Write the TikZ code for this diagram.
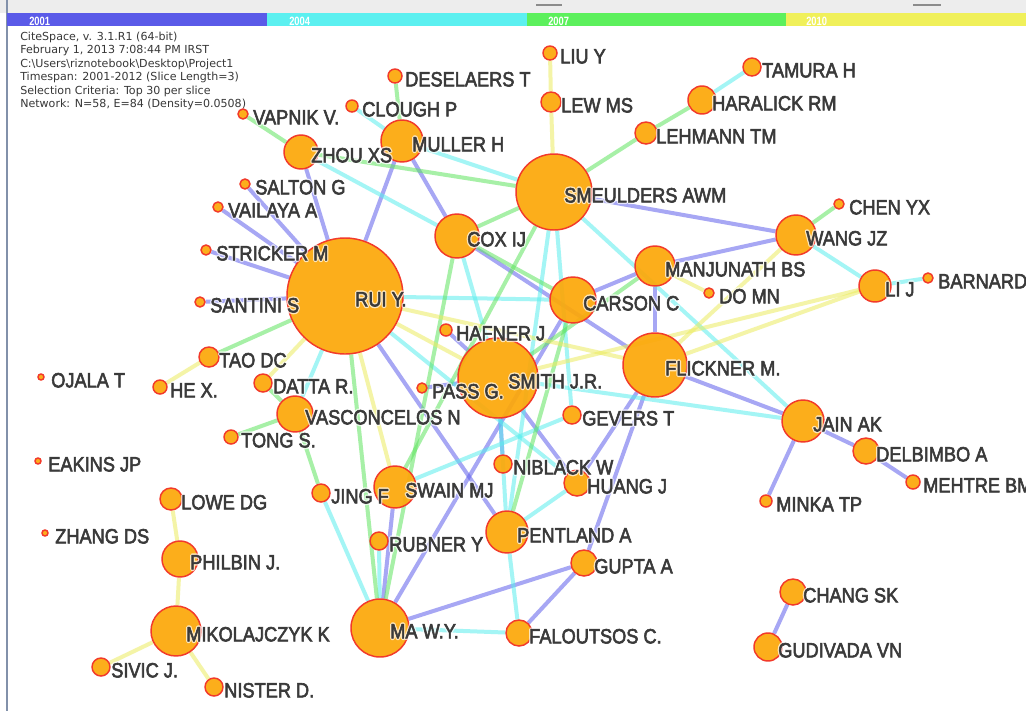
\documentclass[tikz,border=0pt]{standalone}
\usepackage{fontspec}
\usepackage{graphicx}
\setmainfont{Liberation Sans}
\newfontfamily\hdrfont{DejaVu Sans}
\usetikzlibrary{calc}
\pgfdeclarelayer{bg}\pgfdeclarelayer{edgel}\pgfdeclarelayer{labl}
\pgfsetlayers{bg,edgel,main,labl}
\definecolor{eblue}{RGB}{95,95,235}
\definecolor{ecyan}{RGB}{90,238,238}
\definecolor{egreen}{RGB}{95,228,95}
\definecolor{eyellow}{RGB}{236,236,95}
\definecolor{nfill}{RGB}{252,168,10}
\definecolor{nline}{RGB}{242,58,42}
\definecolor{labc}{RGB}{58,58,58}
\definecolor{tlb}{RGB}{90,90,232}
\definecolor{tlc}{RGB}{92,240,240}
\definecolor{tlg}{RGB}{92,240,92}
\definecolor{tly}{RGB}{240,240,90}
\newcommand\boldish[1]{\special{pdf:literal q 2 Tr 0.45 w}#1\special{pdf:literal Q}}
\newcommand\haloize[1]{\special{pdf:literal q 1 Tr 2.6 w 1 J 1 j 1 1 1 RG}#1\special{pdf:literal Q}}
\tikzset{
  cnode/.style={circle,inner sep=0pt,fill=nfill,fill opacity=0.93,draw=nline,line width=1.1pt},
  lab/.style={anchor=base west,inner sep=0pt,text=labc,font=\fontsize{15.5}{16}\selectfont},
  halo/.style={anchor=base west,inner sep=0pt,text=white,opacity=0.7,font=\fontsize{15.5}{16}\selectfont},
  hdr/.style={anchor=base west,inner sep=0pt,text=black!78,font=\hdrfont\fontsize{8.3}{9}\selectfont},
  tll/.style={anchor=base west,inner sep=0pt,text=white,font=\bfseries\fontsize{9}{9}\selectfont},
  edge/.style={line width=3pt,draw opacity=0.55},
  eb/.style={edge,draw=eblue},
  ec/.style={edge,draw=ecyan},
  eg/.style={edge,draw=egreen},
  ey/.style={edge,draw=eyellow},
}
\newcommand\cn[5]{\node[cnode,minimum size=#4*1.5pt] (#1) at (#2,#3) {};
  \begin{pgfonlayer}{labl}
  \node[halo] (#1-h) at (#2+10,#3+10.4) {\haloize{\scalebox{0.88}[1]{#5}}};
  \node[lab] (#1-t) at (#2+10,#3+10.4) {\boldish{\scalebox{0.88}[1]{#5}}};\end{pgfonlayer}}
\newcommand\E[3]{\draw[#1] (#2) -- (#3);}
\begin{document}
\begin{tikzpicture}[x=0.75pt,y=-0.75pt]
\clip (0,0) rectangle (1026,711);
\begin{pgfonlayer}{bg}
\fill[white] (0,0) rectangle (1026,711);
\fill[black!7] (0,0) rectangle (1026,13);
\fill[black!45] (536,4) rectangle (562,6);
\fill[black!45] (913,4) rectangle (941,6);
\draw[color={rgb,255:red,130;green,145;blue,170},line width=0.9pt] (7,0) -- (7,711);
\fill[tlb] (7,13) rectangle (267,26);
\fill[tlc] (267,13) rectangle (527,26);
\fill[tlg] (527,13) rectangle (786,26);
\fill[tly] (786,13) rectangle (1026,26);
\node[tll] (y1) at (29,25.5) {\scalebox{0.78}[1]{2001}};
\node[tll] (y2) at (289,25.5) {\scalebox{0.78}[1]{2004}};
\node[tll] (y3) at (548,25.5) {\scalebox{0.78}[1]{2007}};
\node[tll] (y4) at (806,25.5) {\scalebox{0.78}[1]{2010}};
\node[hdr] (h1) at (20,40) {CiteSpace, v. 3.1.R1 (64-bit)};
\node[hdr] (h2) at (20,53.5) {February 1, 2013 7:08:44 PM IRST};
\node[hdr] (h3) at (20,67) {C:\textbackslash Users\textbackslash riznotebook\textbackslash Desktop\textbackslash Project1};
\node[hdr] (h4) at (20,80.5) {Timespan: 2001-2012 (Slice Length=3)};
\node[hdr] (h5) at (20,94) {Selection Criteria: Top 30 per slice};
\node[hdr] (h6) at (20,107.5) {Network: N=58, E=84 (Density=0.0508)};
\end{pgfonlayer}
% nodes
\cn{rui}{345}{296}{58}{RUI Y.}
\cn{sme}{554}{192}{38}{SMEULDERS AWM}
\cn{smi}{498}{378}{40}{SMITH J.R.}
\cn{fli}{655}{365}{32}{FLICKNER M.}
\cn{ma}{380}{628}{29}{MA W.Y.}
\cn{mik}{176}{631}{25}{MIKOLAJCZYK K}
\cn{car}{573}{300}{23}{CARSON C}
\cn{cox}{457}{236}{22}{COX IJ}
\cn{mul}{402}{141}{21}{MULLER H}
\cn{zho}{301}{152}{17}{ZHOU XS}
\cn{man}{655}{266}{20}{MANJUNATH BS}
\cn{wan}{796}{235}{20}{WANG JZ}
\cn{lij}{875}{286}{16}{LI J}
\cn{jai}{803}{421}{21}{JAIN AK}
\cn{del}{866}{451}{13}{DELBIMBO A}
\cn{meh}{913}{482}{7}{MEHTRE BM}
\cn{bar}{928}{278}{5}{BARNARD K}
\cn{che}{839}{204}{5}{CHEN YX}
\cn{dom}{709}{293}{5}{DO MN}
\cn{min}{766}{501}{6}{MINKA TP}
\cn{pen}{507}{532}{21}{PENTLAND A}
\cn{gup}{584}{563}{13}{GUPTA A}
\cn{fal}{519}{633}{13}{FALOUTSOS C.}
\cn{hua}{577}{483}{13}{HUANG J}
\cn{nib}{503}{464}{9}{NIBLACK W}
\cn{swa}{395}{487}{21}{SWAIN MJ}
\cn{rub}{379}{541}{9}{RUBNER Y}
\cn{jin}{321}{493}{9}{JING F}
\cn{gev}{572}{415}{9}{GEVERS T}
\cn{pas}{422}{388}{5}{PASS G.}
\cn{haf}{446}{330}{6}{HAFNER J}
\cn{vas}{295}{414}{18}{VASCONCELOS N}
\cn{dat}{263}{383}{9}{DATTA R.}
\cn{ton}{231}{437}{7}{TONG S.}
\cn{tao}{209}{357}{10}{TAO DC}
\cn{hex}{160}{387}{7}{HE X.}
\cn{oja}{41}{377}{3}{OJALA T}
\cn{eak}{38}{461}{3}{EAKINS JP}
\cn{zha}{45}{533}{3}{ZHANG DS}
\cn{low}{171}{499}{11}{LOWE DG}
\cn{phi}{180}{559}{18}{PHILBIN J.}
\cn{siv}{101}{667}{9}{SIVIC J.}
\cn{nis}{214}{687}{9}{NISTER D.}
\cn{cha}{793}{592}{13}{CHANG SK}
\cn{gud}{768}{647}{14}{GUDIVADA VN}
\cn{san}{200}{302}{5}{SANTINI S}
\cn{str}{206}{250}{5}{STRICKER M}
\cn{vai}{218}{207}{5}{VAILAYA A}
\cn{sal}{245}{184}{5}{SALTON G}
\cn{vap}{243}{114}{5}{VAPNIK V.}
\cn{clo}{352}{106}{6}{CLOUGH P}
\cn{des}{395}{76}{7}{DESELAERS T}
\cn{liu}{550}{53}{7}{LIU Y}
\cn{lew}{551}{102}{10}{LEW MS}
\cn{har}{702}{100}{14}{HARALICK RM}
\cn{tam}{752}{67}{9}{TAMURA H}
\cn{leh}{646}{133}{11}{LEHMANN TM}
% edges
\begin{pgfonlayer}{edgel}
% blue
\E{eb}{zho}{rui}\E{eb}{sal}{rui}\E{eb}{vai}{rui}\E{eb}{str}{rui}\E{eb}{san}{rui}
\E{eb}{mul}{rui}\E{eb}{mul}{cox}\E{eb}{cox}{fli}\E{eb}{sme}{wan}\E{eb}{man}{wan}
\E{eb}{car}{man}\E{eb}{man}{fli}\E{eb}{fli}{jai}\E{eb}{jai}{del}\E{eb}{del}{meh}
\E{eb}{jai}{min}\E{eb}{haf}{smi}\E{eb}{pas}{smi}\E{eb}{smi}{nib}
\E{eb}{smi}{hua}\E{eb}{rui}{pen}\E{eb}{swa}{ma}\E{eb}{ma}{gup}\E{eb}{gup}{fal}
\E{eb}{gup}{fli}\E{eb}{hua}{fli}\E{eb}{ma}{car}\E{eb}{cha}{gud}
% cyan
\E{ec}{zho}{cox}\E{ec}{clo}{mul}\E{ec}{mul}{sme}\E{ec}{sme}{jai}\E{ec}{sme}{pen}
\E{ec}{sme}{gev}\E{ec}{cox}{smi}\E{ec}{rui}{car}\E{ec}{rui}{vas}\E{ec}{rui}{hua}
\E{ec}{smi}{jai}\E{ec}{wan}{lij}\E{ec}{lij}{bar}\E{ec}{har}{tam}\E{ec}{swa}{gev}
\E{ec}{pen}{hua}\E{ec}{pen}{fal}\E{ec}{ma}{fal}\E{ec}{jin}{ma}\E{ec}{rub}{ma}
\E{ec}{smi}{pen}
% green
\E{eg}{vap}{zho}\E{eg}{zho}{sme}\E{eg}{cox}{sme}\E{eg}{sme}{leh}\E{eg}{har}{leh}
\E{eg}{des}{mul}\E{eg}{sme}{swa}\E{eg}{cox}{car}\E{eg}{rui}{tao}\E{eg}{dat}{vas}
\E{eg}{vas}{ton}\E{eg}{vas}{jin}\E{eg}{rui}{ma}\E{eg}{car}{pen}\E{eg}{wan}{che}
\E{eg}{ma}{cox}\E{eg}{man}{smi}
% yellow
\E{ey}{liu}{lew}\E{ey}{lew}{sme}\E{ey}{rui}{fli}\E{ey}{rui}{dat}\E{ey}{rui}{swa}
\E{ey}{tao}{hex}\E{ey}{smi}{lij}\E{ey}{fli}{lij}\E{ey}{wan}{fli}\E{ey}{man}{dom}
\E{ey}{low}{phi}\E{ey}{phi}{mik}\E{ey}{mik}{siv}\E{ey}{mik}{nis}\E{ey}{rui}{smi}
\end{pgfonlayer}
\end{tikzpicture}
\end{document}
